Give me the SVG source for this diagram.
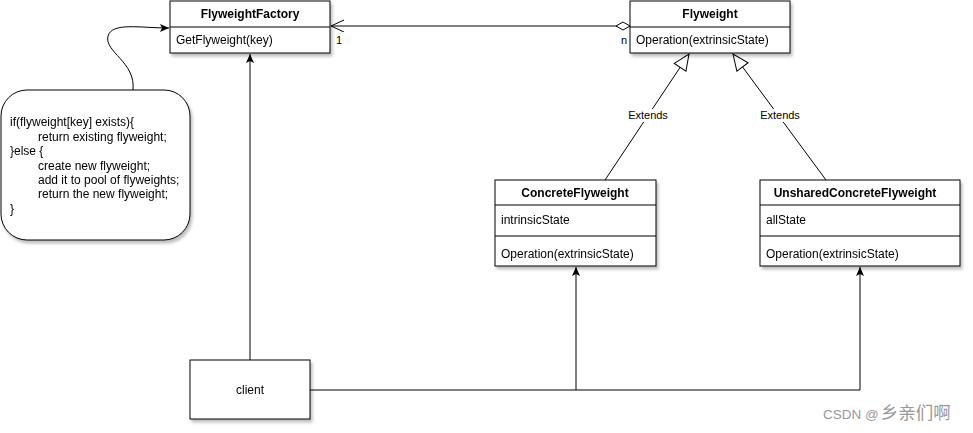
<svg xmlns="http://www.w3.org/2000/svg" width="973" height="433" viewBox="0 0 973 433">
<style>
.box{fill:#fff;stroke:#000;stroke-width:1}
.ln{fill:none;stroke:#000;stroke-width:1}
text{font-family:"Liberation Sans",Arial,sans-serif;font-size:12px;fill:#000}
.b{font-weight:bold;text-anchor:middle}
.c{text-anchor:middle}
.s{font-size:12px}
.m{font-size:11px}
.lbl{font-size:11px;text-anchor:middle}
.wm{font-family:"Liberation Sans","Noto Sans CJK SC",sans-serif;font-size:13.5px;fill:#999}
</style>
<defs>
<filter id="sh" x="-10%" y="-10%" width="130%" height="140%">
<feDropShadow dx="2" dy="3" stdDeviation="1.5" flood-color="#000" flood-opacity="0.25"/>
</filter>
<marker id="fa" markerWidth="10" markerHeight="10" refX="9" refY="4" orient="auto" markerUnits="userSpaceOnUse">
<path d="M0,0 L9,4 L0,8 L2,4 Z" fill="#000"/>
</marker>
<marker id="oa" markerWidth="14" markerHeight="14" refX="13" refY="6" orient="auto" markerUnits="userSpaceOnUse">
<path d="M0,0 L13,6 L0,12" fill="none" stroke="#000"/>
</marker>
<marker id="tri" markerWidth="20" markerHeight="20" refX="17" refY="8" orient="auto" markerUnits="userSpaceOnUse">
<path d="M1,1 L17,8 L1,15 Z" fill="#fff" stroke="#000"/>
</marker>
<marker id="dia" markerWidth="20" markerHeight="12" refX="1" refY="5" orient="auto" markerUnits="userSpaceOnUse">
<path d="M1,5 L8,1 L15,5 L8,9 Z" fill="#fff" stroke="#000"/>
</marker>
</defs>
<rect width="973" height="433" fill="#fff"/>

<g id="connectors">
<path class="ln" d="M630,26 L331,26" marker-end="url(#oa)" marker-start="url(#dia)"/>
<rect x="335" y="33" width="8" height="13" fill="#fff"/>
<text x="336" y="44" class="m">1</text>
<rect x="620" y="33" width="9" height="13" fill="#fff"/>
<text x="621" y="44" class="m">n</text>
<path class="ln" d="M605,180 L689,54" marker-end="url(#tri)"/>
<rect x="627" y="109" width="42" height="13" fill="#fff"/>
<text x="648" y="119" class="lbl">Extends</text>
<path class="ln" d="M826,180 L733,54" marker-end="url(#tri)"/>
<rect x="759" y="109" width="42" height="13" fill="#fff"/>
<text x="780" y="119" class="lbl">Extends</text>
<path class="ln" d="M250,360 L250,54" marker-end="url(#fa)"/>
<path class="ln" d="M310,390 L860,390 L860,267" marker-end="url(#fa)"/>
<path class="ln" d="M576,390 L576,267" marker-end="url(#fa)"/>
<path class="ln" d="M133,90 C136,62 104,52 108,36 C112,22 140,28 169,28" marker-end="url(#fa)"/>
</g>

<g id="FlyweightFactory" filter="url(#sh)">
<rect class="box" x="170" y="1" width="160" height="52"/>
<line class="ln" x1="170" y1="27" x2="330" y2="27"/>
<text x="250" y="18" class="b">FlyweightFactory</text>
<text x="176" y="44">GetFlyweight(key)</text>
</g>

<g id="Flyweight" filter="url(#sh)">
<rect class="box" x="630" y="1" width="160" height="52"/>
<line class="ln" x1="630" y1="27" x2="790" y2="27"/>
<text x="710" y="18" class="b">Flyweight</text>
<text x="636" y="44">Operation(extrinsicState)</text>
</g>

<g id="ConcreteFlyweight" filter="url(#sh)">
<rect class="box" x="495" y="180" width="161" height="86"/>
<line class="ln" x1="495" y1="205" x2="656" y2="205"/>
<line class="ln" x1="495" y1="236" x2="656" y2="236"/>
<text x="575" y="197" class="b">ConcreteFlyweight</text>
<text x="501" y="224">intrinsicState</text>
<text x="501" y="258">Operation(extrinsicState)</text>
</g>

<g id="UnsharedConcreteFlyweight" filter="url(#sh)">
<rect class="box" x="760" y="180" width="200" height="86"/>
<line class="ln" x1="760" y1="205" x2="960" y2="205"/>
<line class="ln" x1="760" y1="236" x2="960" y2="236"/>
<text x="855" y="197" class="b">UnsharedConcreteFlyweight</text>
<text x="766" y="224">allState</text>
<text x="766" y="258">Operation(extrinsicState)</text>
</g>

<g id="note" filter="url(#sh)">
<rect class="box" x="1" y="90" width="189" height="150" rx="26" ry="26"/>
<text x="10" y="126" class="s">if(flyweight[key] exists){</text>
<text x="38" y="141" class="s">return existing flyweight;</text>
<text x="10" y="155" class="s">}else {</text>
<text x="38" y="170" class="s">create new flyweight;</text>
<text x="38" y="184" class="s">add it to pool of flyweights;</text>
<text x="38" y="198" class="s">return the new flyweight;</text>
<text x="10" y="213" class="s">}</text>
</g>

<g id="client" filter="url(#sh)">
<rect class="box" x="190" y="360" width="120" height="59"/>
<text x="250" y="394" class="c">client</text>
</g>

<text x="823" y="419" class="wm">CSDN @<tspan dx="2" style="font-size:17.5px">乡亲们啊</tspan></text>
</svg>
